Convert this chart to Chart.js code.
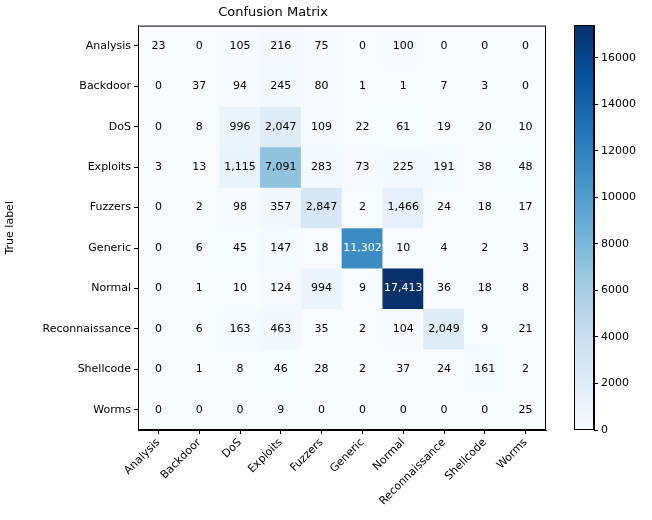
<!DOCTYPE html>
<html>
<head>
<meta charset="utf-8">
<script src="https://cdn.jsdelivr.net/npm/chart.js@4"></script>
<style>
  body { margin: 0; background: #fff; }
  #main { position: absolute; left: 0; top: 0; }
  #bar { position: absolute; left: 560px; top: 0; }
</style>
</head>
<body>
<canvas id="main" width="560" height="520"></canvas>
<canvas id="bar" width="92" height="520"></canvas>
<script>
const classes = ['Analysis', 'Backdoor', 'DoS', 'Exploits', 'Fuzzers', 'Generic', 'Normal', 'Reconnaissance', 'Shellcode', 'Worms'];
const rowAnalysis = [23, 0, 105, 216, 75, 0, 100, 0, 0, 0];
const rowBackdoor = [0, 37, 94, 245, 80, 1, 1, 7, 3, 0];
const rowDoS = [0, 8, 996, 2047, 109, 22, 61, 19, 20, 10];
const rowExploits = [3, 13, 1115, 7091, 283, 73, 225, 191, 38, 48];
const rowFuzzers = [0, 2, 98, 357, 2847, 2, 1466, 24, 18, 17];
const rowGeneric = [0, 6, 45, 147, 18, 11302, 10, 4, 2, 3];
const rowNormal = [0, 1, 10, 124, 994, 9, 17413, 36, 18, 8];
const rowRecon = [0, 6, 163, 463, 35, 2, 104, 2049, 9, 21];
const rowShellcode = [0, 1, 8, 46, 28, 2, 37, 24, 161, 2];
const rowWorms = [0, 0, 0, 9, 0, 0, 0, 0, 0, 25];
const colorbarTicks = [0, 2000, 4000, 6000, 8000, 10000, 12000, 14000, 16000];

const rows = [rowAnalysis, rowBackdoor, rowDoS, rowExploits, rowFuzzers, rowGeneric, rowNormal, rowRecon, rowShellcode, rowWorms];
const vmax = Math.max(...rows.flat());

// matplotlib "Blues"
const blues = ['#f7fbff', '#deebf7', '#c6dbef', '#9ecae1', '#6baed6', '#4292c6', '#2171b5', '#08519c', '#08306b'];
function hex(h) { return [1, 3, 5].map(i => parseInt(h.substr(i, 2), 16)); }
function blue(t) {
    t = Math.max(0, Math.min(1, t)) * (blues.length - 1);
    const i = Math.min(Math.floor(t), blues.length - 2), f = t - i;
    const a = hex(blues[i]), b = hex(blues[i + 1]);
    return 'rgb(' + a.map((v, k) => Math.round(v + (b[k] - v) * f)).join(',') + ')';
}

const font = { family: 'DejaVu Sans', size: 11 };
Chart.defaults.color = '#000';

const cellText = {
    id: 'cellText',
    afterDatasetsDraw(chart) {
        const ctx = chart.ctx, x = chart.scales.x, y = chart.scales.y;
        ctx.save();
        ctx.font = '11px DejaVu Sans';
        ctx.textAlign = 'center';
        ctx.textBaseline = 'middle';
        rows.forEach((row, r) => row.forEach((v, c) => {
            ctx.fillStyle = v > vmax / 2 ? '#fff' : '#000';
            ctx.fillText(v.toLocaleString('en-US'), x.getPixelForValue(c), y.getPixelForValue(r));
        }));
        const a = chart.chartArea;
        ctx.strokeStyle = '#000';
        ctx.lineWidth = 1;
        ctx.strokeRect(a.left + 0.5, a.top + 0.5, a.right - a.left - 1, a.bottom - a.top - 1);
        ctx.restore();
    }
};

new Chart(document.getElementById('main'), {
    type: 'bar',
    data: {
        labels: classes,
        datasets: rows.map((row, r) => ({
            label: classes[r],
            data: row.map(() => [r - 0.5, r + 0.5]),
            backgroundColor: row.map(v => blue(v / vmax)),
            barPercentage: 1,
            categoryPercentage: 1,
            grouped: false,
            borderWidth: 0
        }))
    },
    options: {
        responsive: false,
        animation: false,
        layout: { padding: { right: 14, top: 0 } },
        plugins: {
            legend: { display: false },
            tooltip: { enabled: false },
            title: {
                display: true, text: 'Confusion Matrix',
                font: { family: 'DejaVu Sans', size: 13, weight: 'normal' },
                padding: { top: 5, bottom: 5 }
            }
        },
        scales: {
            x: {
                offset: true,
                grid: { display: true, drawOnChartArea: false, offset: false, tickLength: 4, color: '#000' },
                border: { color: '#000' },
                ticks: { font, maxRotation: 45, minRotation: 45, padding: 2 },
                afterFit(s) { s.height = 90; }
            },
            y: {
                type: 'linear', reverse: true, min: -0.5, max: 9.5,
                afterBuildTicks(s) { s.ticks = classes.map((_, i) => ({ value: i })); },
                grid: { display: true, drawOnChartArea: false, tickLength: 4, color: '#000' },
                border: { color: '#000' },
                ticks: { font, callback: v => classes[v] },
                title: { display: true, text: 'True label', font },
                afterFit(s) { s.width = 138; }
            }
        }
    },
    plugins: [cellText]
});

new Chart(document.getElementById('bar'), {
    type: 'bar',
    data: {
        labels: [''],
        datasets: [{
            data: [[0, vmax]],
            barPercentage: 1, categoryPercentage: 1, borderWidth: 0,
            backgroundColor(ctx) {
                const a = ctx.chart.chartArea;
                if (!a) return blues[4];
                const g = ctx.chart.ctx.createLinearGradient(0, a.bottom, 0, a.top);
                blues.forEach((c, i) => g.addColorStop(i / (blues.length - 1), c));
                return g;
            }
        }]
    },
    options: {
        responsive: false,
        animation: false,
        layout: { padding: { left: 14, top: 25, bottom: 90 } },
        plugins: { legend: { display: false }, tooltip: { enabled: false } },
        scales: {
            x: { display: false },
            y: {
                position: 'right', min: 0, max: vmax,
                afterBuildTicks(s) { s.ticks = colorbarTicks.map(v => ({ value: v })); },
                grid: { display: true, drawOnChartArea: false, tickLength: 4, color: '#000' },
                border: { color: '#000' },
                ticks: { font, padding: 3, callback: v => String(v) },
                afterFit(s) { s.width = 58; }
            }
        }
    },
    plugins: [{
        id: 'frame',
        afterDatasetsDraw(chart) {
            const a = chart.chartArea, ctx = chart.ctx;
            ctx.save();
            ctx.strokeStyle = '#000';
            ctx.strokeRect(a.left + 0.5, a.top + 0.5, a.right - a.left - 1, a.bottom - a.top - 1);
            ctx.restore();
        }
    }]
});
</script>
</body>
</html>
